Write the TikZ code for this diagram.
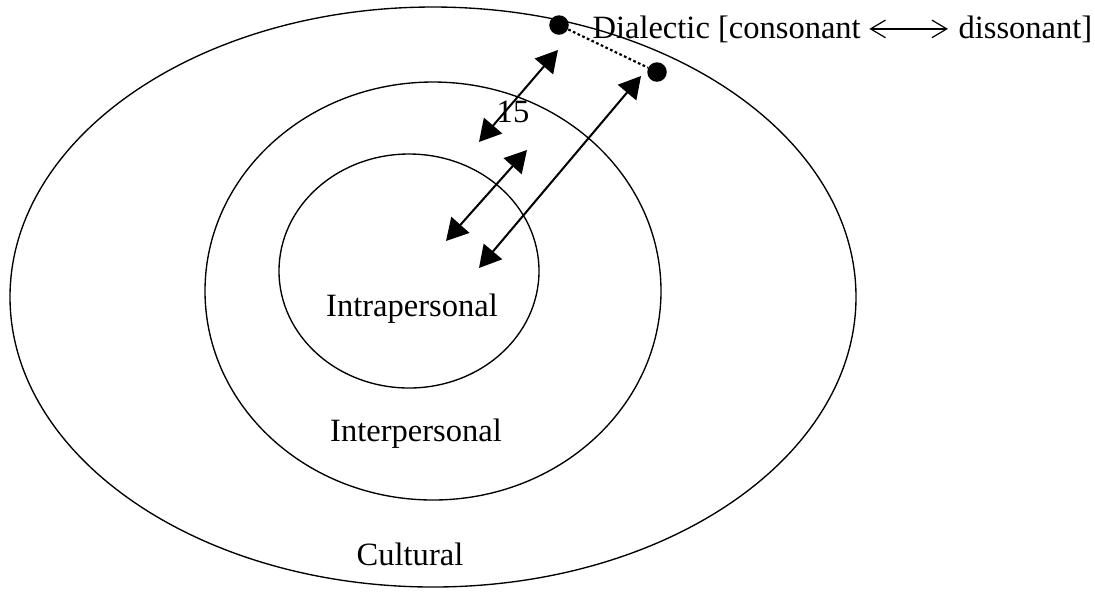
\documentclass[tikz,border=0pt]{standalone}
\usepackage{fontspec}
\setmainfont{Liberation Serif}
\usetikzlibrary{arrows.meta}

\tikzset{
  ring/.style={line width=0.5pt},
  dbl/.style={line width=0.75pt,
    {Triangle[length=8pt,width=8.8pt]}-{Triangle[length=8pt,width=8.8pt]}},
  barb/.style={line width=0.45pt,
    {Straight Barb[length=5.5pt,width=6.5pt]}-{Straight Barb[length=5.5pt,width=6.5pt]}},
  blob/.style={circle, fill, inner sep=0pt, minimum size=7.2pt},
  lbl/.style={font=\fontsize{12}{14}\selectfont, inner sep=0pt}
}

\begin{document}
\begin{tikzpicture}[x=0.369pt, y=-0.369pt]
    \useasboundingbox (0,0) rectangle (1095,591);

    % Drawing the three rings
    \draw[ring] (433,297) ellipse [x radius=423, y radius=290];
    \draw[ring] (433,291) ellipse [x radius=228, y radius=209];
    \draw[ring] (409,271) ellipse [x radius=130, y radius=117];

    % Labeling the rings
    \node[lbl, anchor=base] (intra) at (412,316) {Intrapersonal};
    \node[lbl, anchor=base] (inter) at (416,441) {Interpersonal};
    \node[lbl, anchor=base] (cult) at (410,565) {Cultural};

    % The two poles of the dialectic
    \node[blob] (pole1) at (559,25) {};
    \node[blob] (pole2) at (657,72) {};
    \draw[dash pattern=on 1pt off 0.9pt, line width=0.8pt] (pole1) -- (pole2);
    \node[lbl, anchor=base west] (cons) at (592,38) {Dialectic [consonant};
    \node[lbl, anchor=base west] (diss) at (958,38) {dissonant]};
    \draw[barb, shorten <=3pt, shorten >=3.7pt] (cons.east) -- (diss.west);

    % Double arrows
    \coordinate (a1s) at (479,142);
    \coordinate (a1e) at (558,50);
    \coordinate (a2s) at (446,241);
    \coordinate (a2e) at (527,150);
    \coordinate (a3s) at (479,268);
    \coordinate (a3e) at (641,76);
    \draw[dbl] (a1s) -- (a1e);
    \draw[dbl] (a2s) -- (a2e);
    \draw[dbl] (a3s) -- (a3e);
    \node[lbl, anchor=base] (num) at (513,122) {15};
\end{tikzpicture}
\end{document}
